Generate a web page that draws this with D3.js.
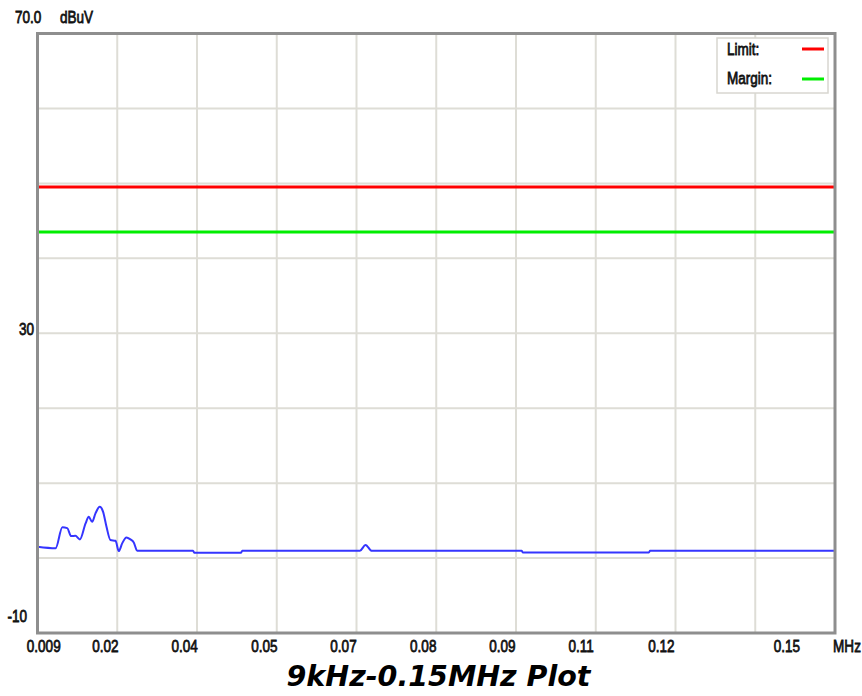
<!DOCTYPE html>
<html>
<head>
<meta charset="utf-8">
<script src="https://cdn.jsdelivr.net/npm/d3@7"></script>
<style>
  html, body { margin: 0; padding: 0; background: #ffffff; }
  svg { display: block; }
  .lbl { font-family: "Liberation Sans", Arial, sans-serif; font-size: 16.5px; fill: #111; stroke: #111; stroke-width: 0.75px; }
  .title { font-family: "DejaVu Sans", Verdana, sans-serif; font-size: 28.5px; font-weight: bold; font-style: italic; fill: #000; }
</style>
</head>
<body>
<svg id="chart" width="862" height="696"></svg>
<script>
// Frequency axis (kHz): range and label anchors
const freqDomain = [9, 150];
const xTickLabels = ["0.009", "0.02", "0.04", "0.05", "0.07", "0.08", "0.09", "0.11", "0.12", "0.15"];
const xTickAt = [10.1, 21.0, 35.0, 49.1, 63.1, 77.2, 91.2, 105.1, 119.3, 141.5];
const xUnit = "MHz";

// Level axis (dBuV)
const levelDomain = [-10, 70];
const yTickValues = [70, 30, -10];
const yTickLabels = ["70.0", "30", "-10"];
const yUnit = "dBuV";

// Limit and margin levels (dBuV)
const limitLevel = 49.5;
const marginLevel = 43.5;

// Measured trace: frequency (kHz) and level (dBuV)
const traceFreq = [9.0, 12.2, 13.4, 14.25, 14.95, 15.7, 16.5, 17.5, 18.06, 18.66, 19.25, 20.0, 20.6, 21.2, 21.9, 22.8, 23.37, 23.97, 24.73, 25.43, 26.02, 26.62,
  36.5, 36.7, 45.0, 45.2, 66.0, 67.0, 68.1, 94.6, 94.8, 117.1, 117.3, 150.0];
const traceLevel = [1.5, 1.3, 4.1, 4.0, 2.93, 2.97, 2.49, 4.63, 5.5, 4.84, 5.96, 6.84, 6.17, 4.17, 2.4, 2.31, 0.93, 1.96, 2.76, 2.49, 2.09, 0.97,
  0.97, 0.72, 0.72, 0.97, 0.97, 1.75, 0.97, 0.97, 0.75, 0.75, 0.97, 0.97];

const legendNames = ["Limit:", "Margin:"];
const legendColors = ["#ff0000", "#00ee00"];

const svg = d3.select("#chart");
const plot = { left: 37.5, top: 33.5, right: 835, bottom: 633 };

const x = d3.scaleLinear().domain(freqDomain).range([plot.left, plot.right]);
const y = d3.scaleLinear().domain(levelDomain).range([plot.bottom, plot.top]);

// Narrow label text: horizontally compressed sans
const narrow = 0.82;
function label(px, py, txt, anchor) {
  svg.append("g")
    .attr("transform", `translate(${px},${py}) scale(${narrow},1)`)
    .append("text").attr("class", "lbl")
    .attr("text-anchor", anchor || "start")
    .text(txt);
}

// Grid: ten equal frequency divisions and 10 dB level steps
const xGrid = d3.range(11).map(i => freqDomain[0] + i * (freqDomain[1] - freqDomain[0]) / 10);
const yGrid = d3.range(levelDomain[0], levelDomain[1] + 1, 10);

const grid = svg.append("g");
grid.selectAll("line.vx").data(xGrid.slice(1, -1)).enter().append("line")
  .attr("x1", d => x(d)).attr("x2", d => x(d))
  .attr("y1", plot.top).attr("y2", plot.bottom)
  .attr("stroke", "#deddd6").attr("stroke-width", 2);
grid.selectAll("line.hy").data(yGrid.slice(1, -1)).enter().append("line")
  .attr("y1", d => y(d)).attr("y2", d => y(d))
  .attr("x1", plot.left).attr("x2", plot.right)
  .attr("stroke", "#deddd6").attr("stroke-width", 2);

// Limit and margin lines
svg.append("line")
  .attr("x1", plot.left).attr("x2", plot.right)
  .attr("y1", y(limitLevel)).attr("y2", y(limitLevel))
  .attr("stroke", legendColors[0]).attr("stroke-width", 3);
svg.append("line")
  .attr("x1", plot.left).attr("x2", plot.right)
  .attr("y1", y(marginLevel)).attr("y2", y(marginLevel))
  .attr("stroke", legendColors[1]).attr("stroke-width", 3);

// Trace
const traceData = traceFreq.map((f, i) => [f, traceLevel[i]]);
const line = d3.line().x(d => x(d[0])).y(d => y(d[1])).curve(d3.curveMonotoneX);
svg.append("path")
  .attr("d", line(traceData))
  .attr("fill", "none")
  .attr("stroke", "#3535ff")
  .attr("stroke-width", 2)
  .attr("stroke-linejoin", "round");

// Frame
svg.append("rect")
  .attr("x", plot.left).attr("y", plot.top)
  .attr("width", plot.right - plot.left).attr("height", plot.bottom - plot.top)
  .attr("fill", "none").attr("stroke", "#8e8e8e").attr("stroke-width", 3);

// Legend
const lg = svg.append("g");
lg.append("rect")
  .attr("x", 717).attr("y", 38).attr("width", 111).attr("height", 55)
  .attr("fill", "#ffffff").attr("stroke", "#d8d6d0").attr("stroke-width", 1.5);
legendNames.forEach((name, i) => {
  label(727, 55 + i * 29, name);
  lg.append("line")
    .attr("x1", 802).attr("x2", 824)
    .attr("y1", 49 + i * 30).attr("y2", 49 + i * 30)
    .attr("stroke", legendColors[i]).attr("stroke-width", 3);
});

// X axis labels
xTickLabels.forEach((t, i) => label(x(xTickAt[i]), 652, t, "middle"));
label(847, 652, xUnit, "middle");

// Y axis labels
const yLabelPos = {
  "70.0": { dx: 15, anchor: "start", dy: -10.5 },
  "30": { dx: 34, anchor: "end", dy: 2 },
  "-10": { dx: 27, anchor: "end", dy: -11 }
};
yTickLabels.forEach((t, i) => {
  const p = yLabelPos[t];
  label(p.dx, y(yTickValues[i]) + p.dy, t, p.anchor);
});
label(60, y(levelDomain[1]) - 10.5, yUnit);

// Title
svg.append("text").attr("class", "title")
  .attr("x", 438.5).attr("y", 686).attr("text-anchor", "middle")
  .text("9kHz-0.15MHz Plot");
</script>
</body>
</html>
